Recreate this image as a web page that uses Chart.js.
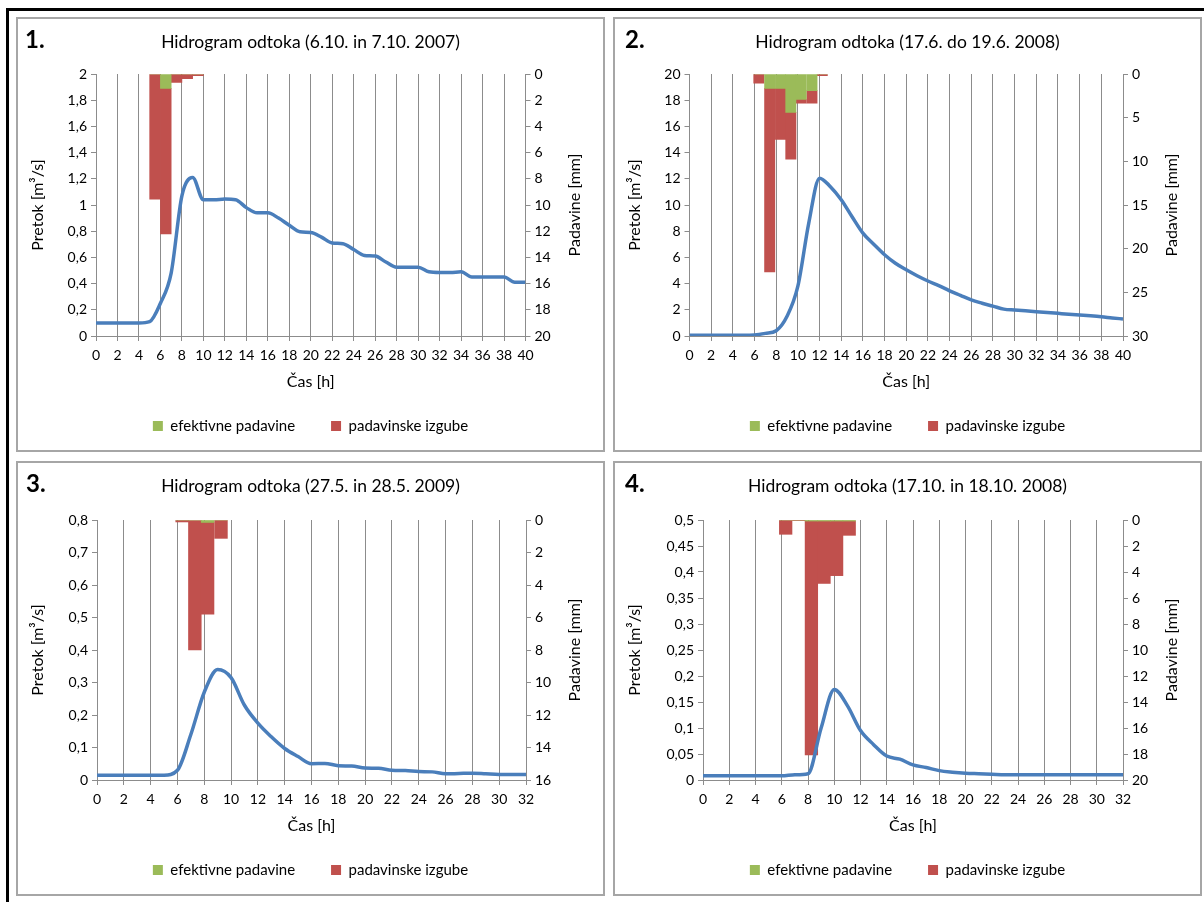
<!DOCTYPE html>
<html>
<head>
<meta charset="utf-8">
<script src="https://cdn.jsdelivr.net/npm/chart.js@4.4.1/dist/chart.umd.min.js"></script>
<style>
  body{margin:0;background:#fff;width:1204px;height:902px;overflow:hidden;position:relative;font-family:Lato,sans-serif}
  .frame{position:absolute;left:6px;top:8px;width:1300px;height:1000px;border-left:3px solid #000;border-top:3px solid #000}
  .panel{position:absolute;width:589px;height:435px;border:2px solid #a6a6a6;box-sizing:border-box;background:#fff}
  .panel canvas{position:absolute;left:0;top:0}
  .num{position:absolute;top:6px;font:bold 24px/28px Lato,sans-serif;color:#000}
  .ttl{position:absolute;left:0;width:585px;top:13px;text-align:center;font:17.5px/20px Lato,sans-serif;color:#000}
</style>
</head>
<body>
<div class="frame"></div>
<div class="panel" style="left:16px;top:17px"><canvas id="c1" width="585" height="431"></canvas><div class="num" style="left:7px">1.</div><div class="ttl">Hidrogram odtoka (6.10. in 7.10. 2007)</div></div>
<div class="panel" style="left:613px;top:17px"><canvas id="c2" width="585" height="431"></canvas><div class="num" style="left:10px">2.</div><div class="ttl">Hidrogram odtoka (17.6. do 19.6. 2008)</div></div>
<div class="panel" style="left:16px;top:461px"><canvas id="c3" width="585" height="431"></canvas><div class="num" style="left:8px">3.</div><div class="ttl">Hidrogram odtoka (27.5. in 28.5. 2009)</div></div>
<div class="panel" style="left:613px;top:461px"><canvas id="c4" width="585" height="431"></canvas><div class="num" style="left:10px">4.</div><div class="ttl">Hidrogram odtoka (17.10. in 18.10. 2008)</div></div>
<script>
// --- podatki ---
const ure40 = [0,1,2,3,4,5,6,7,8,9,10,11,12,13,14,15,16,17,18,19,20,21,22,23,24,25,26,27,28,29,30,31,32,33,34,35,36,37,38,39,40];
const ure32 = [0,1,2,3,4,5,6,7,8,9,10,11,12,13,14,15,16,17,18,19,20,21,22,23,24,25,26,27,28,29,30,31,32];

// 1. 6.10. in 7.10. 2007
const pretok1 = [0.1,0.1,0.1,0.1,0.1,0.11,0.25,0.48,1.07,1.21,1.04,1.04,1.045,1.04,0.98,0.94,0.94,0.9,0.845,0.795,0.79,0.755,0.71,0.705,0.66,0.615,0.61,0.565,0.525,0.525,0.525,0.49,0.485,0.485,0.49,0.45,0.45,0.45,0.45,0.41,0.41];
const padUre1 = [5.5,6.5,7.5,8.5,9.5];
const efektivne1 = [0,1.1,0,0,0];
const izgube1 = [9.55,11.1,0.65,0.35,0.12];

// 2. 17.6. do 19.6. 2008
const pretok2 = [0.05,0.05,0.05,0.05,0.05,0.05,0.08,0.2,0.4,1.5,3.8,8.6,12.05,11.4,10.4,9.1,7.85,7.0,6.2,5.55,5.05,4.6,4.2,3.85,3.45,3.1,2.75,2.5,2.28,2.05,1.98,1.92,1.86,1.8,1.73,1.66,1.6,1.54,1.47,1.38,1.3];
const padUre2 = [6.4,7.4,8.4,9.35,10.3,11.3,12.25];
const efektivne2 = [0,1.65,1.65,4.4,2.9,1.9,0];
const izgube2 = [1.05,21.0,5.85,5.35,0.45,1.45,0.2];

// 3. 27.5. in 28.5. 2009
const pretok3 = [0.015,0.015,0.015,0.015,0.015,0.015,0.03,0.14,0.27,0.34,0.315,0.23,0.175,0.133,0.097,0.072,0.05,0.051,0.044,0.043,0.037,0.036,0.03,0.029,0.026,0.025,0.019,0.02,0.021,0.019,0.017,0.017,0.017];
const padUre3 = [6.35,7.3,8.25,9.25];
const efektivne3 = [0,0,0.15,0];
const izgube3 = [0.12,8.0,5.65,1.13];

// 4. 17.10. in 18.10. 2008
const pretok4 = [0.008,0.008,0.008,0.008,0.008,0.008,0.008,0.01,0.012,0.1,0.174,0.143,0.095,0.068,0.046,0.04,0.029,0.024,0.018,0.015,0.013,0.012,0.011,0.01,0.01,0.01,0.01,0.01,0.01,0.01,0.01,0.01,0.01];
const padUre4 = [6.3,7.3,8.26,9.22,10.18,11.14];
const efektivne4 = [0,0,0.08,0.08,0.08,0.08];
const izgube4 = [1.1,0.05,18.0,4.8,4.2,1.1];

const legendaNapisi = ['efektivne padavine','padavinske izgube'];

// --- risanje ---
const FONT = 'Lato, sans-serif';
const GRID = '#8c8c8c';
const fmt = v => String(parseFloat(Number(v).toFixed(3))).replace('.', ',');

const osniNapisi = {
  id:'osniNapisi',
  afterDraw(chart, args, o){
    const {ctx, chartArea:a} = chart;
    ctx.save();
    ctx.fillStyle = '#000';
    ctx.font = '16px ' + FONT;
    ctx.textAlign = 'center';
    ctx.textBaseline = 'middle';
    const cy = (a.top + a.bottom) / 2;
    [[o.levoX, 'Pretok [m³/s]'], [o.desnoX, 'Padavine [mm]']].forEach(([x, t]) => {
      ctx.save(); ctx.translate(x, cy); ctx.rotate(-Math.PI/2); ctx.fillText(t, 0, 0); ctx.restore();
    });
    ctx.fillText('Čas [h]', (a.left + a.right) / 2, a.bottom + 46);
    ctx.restore();
  }
};

function narisi(id, p){
  const LP = 36;
  new Chart(document.getElementById(id), {
    type:'line',
    data:{
      datasets:[
        { type:'line', label:'pretok', data:p.ure.map((h,i)=>({x:h, y:p.pretok[i]})),
          borderColor:'#4a7ebb', borderWidth:3.5, pointRadius:0, cubicInterpolationMode:'monotone', yAxisID:'y', fill:false },
        { type:'bar', label:legendaNapisi[0], data:p.padUre.map((h,i)=>({x:h, y:p.efektivne[i]})),
          backgroundColor:'#9bbb59', borderWidth:0, yAxisID:'yP', stack:'pad', barPercentage:1, categoryPercentage:1 },
        { type:'bar', label:legendaNapisi[1], data:p.padUre.map((h,i)=>({x:h, y:p.izgube[i]})),
          backgroundColor:'#c0504d', borderWidth:0, yAxisID:'yP', stack:'pad', barPercentage:1, categoryPercentage:1 }
      ]
    },
    options:{
      responsive:false, animation:false,
      layout:{ padding:{ top:p.top, left:0, right:0, bottom:6.5 } },
      plugins:{
        title:{ display:false }, tooltip:{ enabled:false },
        legend:{ position:'bottom', labels:{ filter:it=>it.datasetIndex>0, boxWidth:10, boxHeight:10, padding:LP,
          color:'#000', font:{ family:FONT, size:15 } } },
        osniNapisi:{ levoX:20, desnoX:557 }
      },
      scales:{
        x:{ type:'linear', min:0, max:p.xMax, offset:false,
          ticks:{ stepSize:2, autoSkip:false, maxRotation:0, color:'#000', padding:6, font:{ family:FONT, size:14 } },
          grid:{ color:GRID, lineWidth:1, tickLength:5, offset:false },
          border:{ color:GRID },
          afterFit(s){ s.height = 82.5 - LP; } },
        y:{ position:'left', min:0, max:p.qMax,
          ticks:{ stepSize:p.qStep, autoSkip:false, color:'#000', padding:4, font:{ family:FONT, size:14 }, callback:fmt },
          grid:{ drawOnChartArea:false, color:GRID, tickLength:5 },
          border:{ color:GRID },
          afterFit(s){ s.width = p.left; } },
        yP:{ position:'right', reverse:true, min:0, max:p.pMax, stacked:true,
          ticks:{ stepSize:p.pStep, autoSkip:false, color:'#000', padding:4, font:{ family:FONT, size:14 }, callback:fmt },
          grid:{ drawOnChartArea:false, color:GRID, tickLength:5 },
          border:{ color:GRID },
          afterFit(s){ s.width = 585 - p.right; } }
      }
    },
    plugins:[osniNapisi]
  });
}

narisi('c1', { ure:ure40, pretok:pretok1, padUre:padUre1, efektivne:efektivne1, izgube:izgube1,
  xMax:40, qMax:2, qStep:0.2, pMax:20, pStep:2, left:78, right:507.5, top:55 });
narisi('c2', { ure:ure40, pretok:pretok2, padUre:padUre2, efektivne:efektivne2, izgube:izgube2,
  xMax:40, qMax:20, qStep:2, pMax:30, pStep:5, left:74.5, right:508, top:55 });
narisi('c3', { ure:ure32, pretok:pretok3, padUre:padUre3, efektivne:efektivne3, izgube:izgube3,
  xMax:32, qMax:0.8, qStep:0.1, pMax:16, pStep:2, left:79, right:508, top:57 });
narisi('c4', { ure:ure32, pretok:pretok4, padUre:padUre4, efektivne:efektivne4, izgube:izgube4,
  xMax:32, qMax:0.5, qStep:0.05, pMax:20, pStep:2, left:88, right:508, top:57 });
</script>
</body>
</html>
